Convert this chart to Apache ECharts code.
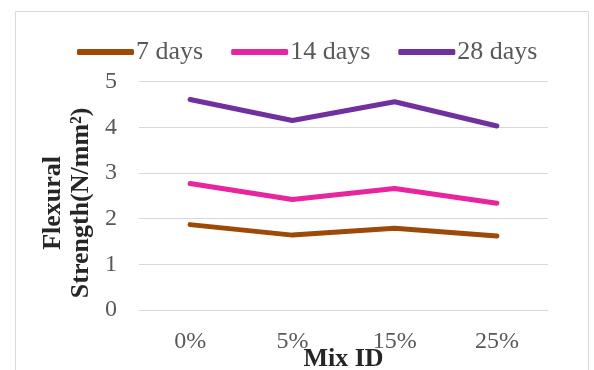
<!DOCTYPE html>
<html>
<head>
<meta charset="utf-8">
<script src="https://cdn.jsdelivr.net/npm/echarts@6/dist/echarts.min.js"></script>
<style>
  html, body { margin: 0; padding: 0; background: #fff; }
  #chart { width: 594px; height: 370px; }
</style>
</head>
<body>
<div id="chart"></div>
<script>
// Flexural strength by mix, at three curing ages
const mixIds = ['0%', '5%', '15%', '25%'];
const days7 = [1.87, 1.64, 1.79, 1.62];
const days14 = [2.77, 2.42, 2.66, 2.34];
const days28 = [4.61, 4.15, 4.56, 4.03];
const seriesNames = ['7 days', '14 days', '28 days'];
const seriesColors = ['#9C4A06', '#E6259F', '#7030A0'];

const serif = "'Liberation Serif', 'Times New Roman', serif";

const chart = echarts.init(document.getElementById('chart'), null, { renderer: 'canvas' });

const makeLine = (name, data, color) => ({
  name: name,
  type: 'line',
  data: data,
  symbol: 'none',
  lineStyle: { color: color, width: 5, cap: 'round', join: 'round' },
  itemStyle: { color: color },
  emphasis: { disabled: true }
});

chart.setOption({
  animation: false,
  backgroundColor: '#ffffff',
  graphic: [{
    type: 'rect',
    shape: { x: 15.5, y: 11.5, width: 573, height: 380 },
    style: { fill: 'none', stroke: '#d9d9d9', lineWidth: 1 },
    silent: true
  }],
  legend: {
    left: 77,
    top: 39,
    padding: 0,
    itemWidth: 57,
    itemHeight: 6,
    itemGap: 28,
    icon: 'roundRect',
    textStyle: { fontFamily: serif, fontSize: 26, color: '#595959', padding: [0, 0, 0, -3] },
    data: seriesNames
  },
  grid: { left: 139, right: 46, top: 81.7, bottom: 60, outerBoundsMode: 'none' },
  xAxis: {
    type: 'category',
    data: mixIds,
    boundaryGap: true,
    axisLine: { show: true, lineStyle: { color: '#d9d9d9', width: 1 } },
    axisTick: { show: false },
    axisLabel: { fontFamily: serif, fontSize: 24, color: '#595959', margin: 20 },
    name: 'Mix ID',
    nameLocation: 'middle',
    nameGap: 36,
    nameMoveOverlap: false,
    nameTextStyle: { fontFamily: serif, fontSize: 26, fontWeight: 'bold', color: '#262626' }
  },
  yAxis: {
    type: 'value',
    min: 0,
    max: 5,
    interval: 1,
    axisLine: { show: false },
    axisTick: { show: false },
    splitLine: { lineStyle: { color: '#d9d9d9', width: 1 } },
    axisLabel: { fontFamily: serif, fontSize: 24, color: '#595959', margin: 22 },
    name: 'Flexural\nStrength(N/mm²)',
    nameLocation: 'middle',
    nameRotate: 90,
    nameGap: 44,
    nameMoveOverlap: false,
    nameTextStyle: { fontFamily: serif, fontSize: 26, fontWeight: 'bold', color: '#262626', lineHeight: 28, padding: [0, 14, 0, 0] }
  },
  series: [
    makeLine(seriesNames[0], days7, seriesColors[0]),
    makeLine(seriesNames[1], days14, seriesColors[1]),
    makeLine(seriesNames[2], days28, seriesColors[2])
  ]
});
</script>
</body>
</html>
